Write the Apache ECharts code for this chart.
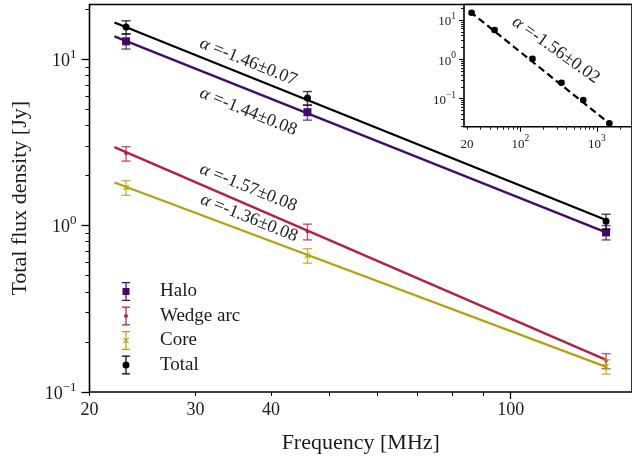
<!DOCTYPE html>
<html><head><meta charset="utf-8">
<script src="https://cdn.jsdelivr.net/npm/echarts@6/dist/echarts.min.js"></script>
<style>html,body{margin:0;padding:0;background:#fff}#c{width:632px;height:459px}</style>
</head><body><div id="c"></div>
<script>
// ---- data ----
const freqs = [23, 46, 144];                 // MHz
const haloFlux  = [12.8, 4.8, 0.91];
const haloErr   = [1.3, 0.5, 0.09];
const wedgeFlux = [2.71, 0.92, 0.154];
const wedgeErr  = [0.27, 0.1, 0.016];
const coreFlux  = [1.69, 0.66, 0.142];
const coreErr   = [0.17, 0.066, 0.014];
const totalFlux = [15.6, 5.84, 1.06];
const totalErr  = [1.4, 0.55, 0.11];

const fitFreq  = [22, 144];
const haloFit  = [13.7, 0.91];
const wedgeFit = [2.96, 0.156];
const coreFit  = [1.815, 0.1415];
const totalFit = [16.6, 1.08];

const alphaTexts = ['-1.46±0.07', '-1.44±0.08', '-1.57±0.08', '-1.36±0.08'];
const alphaAnchors = [[36.7, 9.64], [36.7, 4.83], [36.7, 1.69], [36.8, 1.11]];

const insetFreq = [23, 46, 144, 345, 665, 1460];
const insetFlux = [15.3, 5.6, 1.03, 0.254, 0.092, 0.0236];
const insetErr  = [1.4, 0.5, 0.09, 0.022, 0.008, 0.002];
const insetFitFreq = [22, 1490];
const insetFitFlux = [16.3, 0.0226];
const insetAlphaText = '-1.56±0.02';
const insetAlphaAnchor = [292, 1.73];

const mainXLabels = [20, 30, 40, 100];
const mainXMajor = [100];
const mainXMinor = [20, 30, 40, 50, 60, 70, 80, 90];
const mainYMajor = [0.1, 1, 10];
const mainYMinor = [0.2,0.3,0.4,0.5,0.6,0.7,0.8,0.9,2,3,4,5,6,7,8,9,20];
const insetXLabels = [20, 100, 1000];
const insetXMajor = [100, 1000];
const insetXMinor = [20,30,40,50,60,70,80,90,200,300,400,500,600,700,800,900,2000];
const insetYMajor = [0.1, 1, 10];
const insetYMinor = [0.02,0.03,0.04,0.05,0.06,0.07,0.08,0.09,0.2,0.3,0.4,0.5,0.6,0.7,0.8,0.9,2,3,4,5,6,7,8,9,20];

const seriesNames = ['Halo', 'Wedge arc', 'Core', 'Total'];
const colors = {Halo: '#440a6b', 'Wedge arc': '#b5203f', Core: '#b5a214', Total: '#000000'};

// ---- rendering ----
const FONT = 'Liberation Serif';
const TXT = '#1a1a1a';
const chart = echarts.init(document.getElementById('c'), null, {renderer: 'canvas'});

function pow10Label(v) {
  if (v === 0.1 || v === 1 || v === 10 || v === 100 || v === 1000) {
    const e = Math.round(Math.log10(v));
    return '{b|10}{s|' + (e < 0 ? '\u2212' + (-e) : e) + '}';
  }
  return '{b|' + v + '}';
}
function richFor(size, sup) {
  return {
    b: {fontFamily: FONT, fontSize: size, color: TXT, lineHeight: size + 4, verticalAlign: 'bottom'},
    s: {fontFamily: FONT, fontSize: sup, color: TXT, lineHeight: sup, verticalAlign: 'top'}
  };
}

function logAxis(opt) {
  return Object.assign({
    type: 'log', logBase: 10, splitLine: {show: false}, axisLine: {show: false},
    axisTick: {show: true, inside: false, length: 7, lineStyle: {color: '#000', width: 1.3}},
    axisLabel: {show: false}, minorTick: {show: false}, minorSplitLine: {show: false}
  }, opt);
}

function errSeries(name, xs, ys, es, marker, xi, yi, msize, capW, showInLegend) {
  const color = colors[name] || '#000';
  return {
    type: 'custom', name: showInLegend ? name : name + ' (inset)',
    xAxisIndex: xi, yAxisIndex: yi, clip: false, z: 7,
    itemStyle: {color: color},
    encode: {x: 0, y: 1},
    data: xs.map((x, i) => [x, ys[i], es[i]]),
    renderItem: function (params, api) {
      const x = api.value(0), y = api.value(1), e = api.value(2);
      const c = api.coord([x, y]);
      const t = api.coord([x, y + e]);
      const b = api.coord([x, y - e]);
      const es = {stroke: color, lineWidth: 1.4, opacity: 0.75};
      const kids = [
        {type: 'line', shape: {x1: t[0], y1: t[1], x2: b[0], y2: b[1]}, style: es},
        {type: 'line', shape: {x1: t[0] - capW, y1: t[1], x2: t[0] + capW, y2: t[1]}, style: es},
        {type: 'line', shape: {x1: b[0] - capW, y1: b[1], x2: b[0] + capW, y2: b[1]}, style: es}
      ];
      const h = msize / 2;
      if (marker === 'square') kids.push({type: 'rect', shape: {x: c[0] - h, y: c[1] - h, width: msize, height: msize}, style: {fill: color}});
      else if (marker === 'circle') kids.push({type: 'circle', shape: {cx: c[0], cy: c[1], r: h}, style: {fill: color}});
      else if (marker === 'x') {
        kids.push({type: 'line', shape: {x1: c[0] - h, y1: c[1] - h, x2: c[0] + h, y2: c[1] + h}, style: {stroke: color, lineWidth: 1.3}});
        kids.push({type: 'line', shape: {x1: c[0] - h, y1: c[1] + h, x2: c[0] + h, y2: c[1] - h}, style: {stroke: color, lineWidth: 1.3}});
      }
      return {type: 'group', children: kids};
    }
  };
}

function fitSeries(name, xs, ys, xi, yi, dashed) {
  return {
    type: 'line', name: name + (dashed ? ' inset fit' : ' fit'), xAxisIndex: xi, yAxisIndex: yi, z: 6,
    showSymbol: false, silent: true, animation: false,
    lineStyle: {color: colors[name] || '#000', width: dashed ? 2.2 : 2.3, type: dashed ? [7, 4] : 'solid'},
    data: xs.map((x, i) => [x, ys[i]])
  };
}

const caps = 'M0,0H8V1.2H4.6V17.8H8V19H0V17.8H3.4V1.2H0Z';
const icons = {
  'Halo': 'path://M0,0H8V1.2H4.6V6H7.5V13H4.6V17.8H8V19H0V17.8H3.4V13H0.5V6H3.4V1.2H0Z',
  'Wedge arc': 'path://' + caps + 'M6,9.5A2,2 0 1,1 2,9.5A2,2 0 1,1 6,9.5Z',
  'Core': 'path://' + caps + 'M1,7.3L1.8,6.5L7,11.7L6.2,12.5ZM6.2,6.5L7,7.3L1.8,12.5L1,11.7Z',
  'Total': 'path://' + caps + 'M7.5,9.5A3.5,3.5 0 1,1 0.5,9.5A3.5,3.5 0 1,1 7.5,9.5Z'
};

const option = {
  animation: false,
  backgroundColor: '#fff',
  grid: [
    {left: 89.5, top: 4.5, right: -2, bottom: 66.7, show: true, borderColor: '#000', borderWidth: 1.6, backgroundColor: 'transparent'},
    {left: 464, top: 4.5, right: -2, bottom: 332.3, show: true, borderColor: '#000', borderWidth: 1.6, backgroundColor: '#fff', z: 4}
  ],
  xAxis: [
    logAxis({gridIndex: 0, min: 20, max: 159, position: 'bottom',
      axisTick: {show: true, length: 7, customValues: mainXMajor, lineStyle: {color: '#000', width: 1.3}},
      axisLabel: {show: true, customValues: mainXLabels, margin: 9, fontFamily: FONT, fontSize: 18, color: TXT},
      name: 'Frequency [MHz]', nameLocation: 'middle', nameGap: 40,
      nameTextStyle: {fontFamily: FONT, fontSize: 22, color: TXT}}),
    logAxis({gridIndex: 0, min: 20, max: 159, position: 'bottom',
      axisTick: {show: true, length: 4, customValues: mainXMinor, lineStyle: {color: '#000', width: 1}}}),
    logAxis({gridIndex: 1, min: 18.3, max: 2890, position: 'bottom',
      axisTick: {show: true, length: 5, customValues: insetXMajor, lineStyle: {color: '#000', width: 1.1}},
      axisLabel: {show: true, customValues: insetXLabels, margin: 7, formatter: v => pow10Label(v), rich: richFor(13, 9.5)}}),
    logAxis({gridIndex: 1, min: 18.3, max: 2890, position: 'bottom',
      axisTick: {show: true, length: 3, customValues: insetXMinor, lineStyle: {color: '#000', width: 0.9}}})
  ],
  yAxis: [
    logAxis({gridIndex: 0, min: 0.1, max: 21.3, position: 'left',
      axisTick: {show: true, length: 8, customValues: mainYMajor, lineStyle: {color: '#000', width: 1.3}},
      axisLabel: {show: true, customValues: mainYMajor, margin: 13, formatter: v => pow10Label(v), rich: richFor(18, 13)},
      name: 'Total flux density [Jy]', nameLocation: 'middle', nameGap: 58,
      nameTextStyle: {fontFamily: FONT, fontSize: 22, color: TXT}}),
    logAxis({gridIndex: 0, min: 0.1, max: 21.3, position: 'left',
      axisTick: {show: true, length: 4, customValues: mainYMinor, lineStyle: {color: '#000', width: 1}}}),
    logAxis({gridIndex: 1, min: 0.0193, max: 24.8, position: 'left',
      axisTick: {show: true, length: 5, customValues: insetYMajor, lineStyle: {color: '#000', width: 1.1}},
      axisLabel: {show: true, customValues: insetYMajor, margin: 8, formatter: v => pow10Label(v), rich: richFor(13, 9.5)}}),
    logAxis({gridIndex: 1, min: 0.0193, max: 24.8, position: 'left',
      axisTick: {show: true, length: 3, customValues: insetYMinor, lineStyle: {color: '#000', width: 0.9}}})
  ],
  legend: {
    orient: 'vertical', left: 122, top: 282, padding: 0,
    itemWidth: 8, itemHeight: 19, itemGap: 5.5,
    data: seriesNames.map(n => ({name: n, icon: icons[n]})),
    textStyle: {fontFamily: FONT, fontSize: 19, color: TXT, padding: [0, 0, 0, 25]}
  },
  series: [
    fitSeries('Total', fitFreq, totalFit, 0, 0),
    fitSeries('Halo', fitFreq, haloFit, 0, 0),
    fitSeries('Wedge arc', fitFreq, wedgeFit, 0, 0),
    fitSeries('Core', fitFreq, coreFit, 0, 0),
    errSeries('Halo', freqs, haloFlux, haloErr, 'square', 0, 0, 8, 4.5, true),
    errSeries('Wedge arc', freqs, wedgeFlux, wedgeErr, 'circle', 0, 0, 3.5, 4.5, true),
    errSeries('Core', freqs, coreFlux, coreErr, 'x', 0, 0, 5, 4.5, true),
    errSeries('Total', freqs, totalFlux, totalErr, 'circle', 0, 0, 7, 4.5, true),
    fitSeries('Total', insetFitFreq, insetFitFlux, 2, 2, true),
    errSeries('Total', insetFreq, insetFlux, insetErr, 'circle', 2, 2, 6.5, 3, false)
  ]
};
chart.setOption(option);

// rotated alpha annotations, anchored in data space
const gfx = [];
const mkText = (px, deg, txt) => ({
  type: 'text', x: px[0], y: px[1], rotation: -deg * Math.PI / 180, z: 10,
  style: {
    text: '{a|\u03b1} =' + txt, fontFamily: FONT, fontSize: 18, fill: '#222',
    align: 'center', verticalAlign: 'middle',
    rich: {a: {fontFamily: FONT, fontSize: 18, fontStyle: 'italic', fill: '#222'}}
  }
});
alphaAnchors.forEach((a, i) => {
  const p = chart.convertToPixel({xAxisIndex: 0, yAxisIndex: 0}, a);
  gfx.push(mkText(p, 22, alphaTexts[i]));
});
const pi = chart.convertToPixel({xAxisIndex: 2, yAxisIndex: 2}, insetAlphaAnchor);
gfx.push(mkText(pi, 35.5, insetAlphaText));
chart.setOption({graphic: gfx});
</script>
</body></html>
